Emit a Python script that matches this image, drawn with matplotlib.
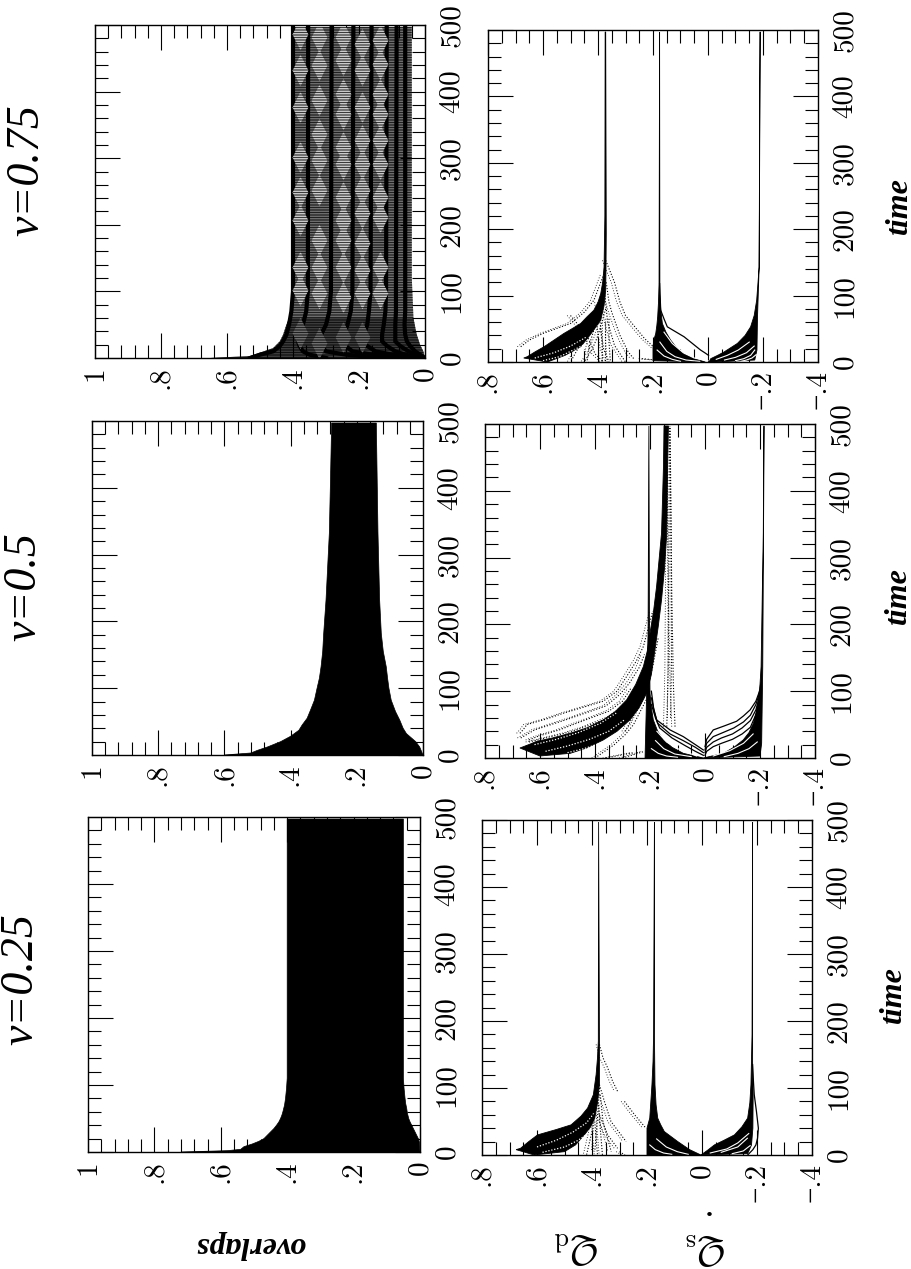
import numpy as np
import matplotlib
matplotlib.use('Agg')
import matplotlib.pyplot as plt

W, H = 912, 1269
plt.rcParams['font.family'] = ['cmr10', 'Liberation Serif']
plt.rcParams['axes.formatter.use_mathtext'] = True
plt.rcParams['mathtext.fontset'] = 'cm'
plt.rcParams['hatch.linewidth'] = 0.55

overlap_ticks = [1, 0.8, 0.6, 0.4, 0.2, 0]
overlap_labels = ['1', '.8', '.6', '.4', '.2', '0']
q_ticks = [0.8, 0.6, 0.4, 0.2, 0, -0.2, -0.4]
q_labels = ['.8', '.6', '.4', '.2', '0', '\u2212.2', '\u2212.4']
time_ticks = [0, 100, 200, 300, 400, 500]
nu_labels = ['0.75', '0.5', '0.25']

# overlaps, nu=0.25: outer edges of the black region
ov25_top_t = [0, 2, 4, 8, 12, 16, 20, 25, 30, 35, 40, 45, 50, 55, 60, 70, 80, 95, 110, 150, 200, 497]
ov25_top = [.72, .58, .54, .53, .505, .485, .47, .46, .45, .44, .432, .425, .42, .416, .413, .408, .405, .402, .40, .40, .40, .40]
ov25_bot_t = [0, 15, 20, 25, 30, 35, 40, 45, 50, 58, 65, 72, 80, 95, 110, 497]
ov25_bot = [0, .002, .005, .01, .015, .02, .025, .03, .034, .038, .04, .043, .045, .048, .05, .05]

# overlaps, nu=0.5
ov50_top_t = [0, 3, 7, 12, 20, 28, 37, 45, 55, 67, 82, 100, 115, 132, 155, 182, 232, 282, 332, 400, 497]
ov50_top = [.6, .52, .50, .47, .43, .40, .375, .365, .35, .34, .328, .32, .313, .308, .303, .30, .293, .288, .283, .28, .276]
ov50_bot_t = [0, 12, 20, 26, 32, 40, 52, 65, 82, 100, 115, 132, 155, 182, 232, 332, 497]
ov50_bot = [0, .01, .022, .036, .05, .06, .07, .083, .096, .103, .107, .111, .12, .126, .131, .136, .141]

# overlaps, nu=0.75
ov75_top_t = [0, 3, 8, 15, 25, 35, 50, 60, 70, 85, 110, 497]
ov75_top = [.65, .53, .50, .46, .44, .43, .42, .412, .405, .402, .40, .40]
ov75_bot_t = [0, 10, 20, 35, 60, 120, 497]
ov75_bot = [0, .005, .015, .025, .035, .04, .04]
dark_top_t = [0, 3, 8, 15, 25, 35, 50, 60]
dark_top = [.65, .53, .50, .46, .44, .43, .42, .412]
dark_bot_t = [0, 10, 20, 40, 60]
dark_bot = [0, .005, .015, .028, .035]
band_t = [0, 5, 10, 18, 25, 35, 50, 70, 100, 497]
bands = [
    [.30, .35, .37, .38, .385, .38, .37, .36, .355, .354],
    [.12, .24, .30, .315, .32, .315, .30, .29, .285, .283],
    [.06, .16, .22, .24, .25, .245, .235, .225, .22, .217],
    [.03, .10, .15, .175, .19, .185, .175, .17, .165, .162],
    [.01, .06, .09, .115, .13, .13, .125, .12, .118, .116],
    [.005, .03, .05, .075, .09, .09, .09, .088, .088, .086],
    [0, .015, .03, .045, .055, .06, .062, .06, .06, .06],
    [.53, .50, .46, .44, .43, .42, .412, .405, .40, .40],
]
light_q = [.378, .32, .25, .19, .135]
light_t = [
    [487, 432, 377, 302, 250, 207, 137, 102, 37],
    [482, 440, 387, 337, 297, 252, 177, 137, 97, 22],
    [482, 447, 397, 367, 317, 292, 242, 207, 177, 137, 92, 32],
    [472, 432, 377, 327, 292, 252, 217, 172, 132, 97, 32],
    [477, 442, 397, 367, 327, 292, 242, 212, 137, 97],
]

# Q panels: each branch is a black bundle (left edge, right edge) in (t, Q)
# nu=0.75
q75_bundles = [
    (([6, 8, 15, 23, 33, 43, 50, 58, 68, 78, 90, 103, 120, 143, 220, 497],
      [.67, .657, .63, .596, .56, .524, .495, .463, .44, .415, .40, .39, .383, .378, .375, .374]),
     ([0, 10, 23, 40, 63, 85, 108, 140, 193, 497], [.584, .52, .463, .43, .39, .378, .372, .371, .37, .372])),
    (([2, 22, 33, 43, 55, 68, 90, 118, 497], [.2, .2, .197, .19, .186, .183, .18, .178, .176]),
     ([0, 5, 12, 22, 33, 45, 58, 80, 103, 497], [.01, .05, .087, .115, .136, .153, .166, .172, .175, .176])),
    (([0, 5, 10, 15, 28, 40, 53, 70, 93, 143, 497],
      [-.004, -.01, -.035, -.058, -.107, -.135, -.155, -.168, -.177, -.186, -.189]),
     ([0, 3, 18, 68, 143, 497], [-.03, -.17, -.178, -.18, -.186, -.19])),
]
q75_solid = [
    ([10, 14, 18, 28, 38, 53, 65, 78, 118], [-.002, .012, .027, .057, .087, .148, .16, .172, .176]),
    ([0, 3, 8, 20, 40], [-.004, -.02, -.06, -.12, -.16]),
]
q75_white = [
    ([2, 6, 14, 28, 45], [.0, .05, .09, .13, .16]),
    ([1, 3, 8, 16, 30], [.03, .08, .12, .15, .175]),
    ([1, 4, 9, 18], [.10, .13, .16, .185]),
    ([3, 7, 14, 24], [-.06, -.10, -.14, -.168]),
    ([2, 5, 10, 18], [-.10, -.13, -.155, -.17]),
    ([1, 3, 6, 11], [-.12, -.14, -.16, -.175]),
    ([4, 10, 18, 30], [-.03, -.07, -.11, -.15]),
]
q75_white_dots = [
    ([2, 8, 16, 28, 40], [.60, .54, .50, .44, .41]),
    ([6, 14, 24, 38], [.63, .56, .50, .44]),
    ([0, 6, 14, 26, 40], [.54, .50, .46, .42, .40]),
]
q75_dots = [
    ([23, 33, 43, 58, 75, 93, 133], [.681, .65, .6, .5, .45, .415, .378]),
    ([153, 120, 90, 70, 50, 35, 20], [.372, .34, .32, .30, .26, .23, .19]),
    ([120, 90, 75, 40, 15, 5], [.37, .36, .35, .32, .29, .27]),
    ([100, 60, 25, 0], [.375, .365, .34, .30]),
    ([90, 50, 20, 0], [.40, .39, .38, .36]),
    ([70, 40, 12, 0], [.50, .44, .41, .38]),
    ([60, 30, 0], [.375, .375, .375]),
    ([50, 25, 0], [.39, .385, .385]),
    ([65, 30, 0], [.36, .36, .355]),
    ([55, 28, 0], [.41, .43, .44]),
    ([80, 40, 20, 0], [.372, .40, .42, .45]),
    ([30, 15, 0], [.46, .48, .50]),
    ([5, 3], [.24, .19]),
]

# nu=0.5
q50_bundles = [
    (([15, 17, 21, 25, 30, 37, 45, 57, 70, 87, 110, 137, 160, 187, 220, 257, 337, 437, 497],
      [.673, .66, .635, .612, .555, .491, .43, .37, .325, .285, .252, .224, .21, .2, .187, .176, .158, .151, .149]),
     ([3, 7, 15, 27, 40, 57, 75, 97, 125, 162, 197, 237, 285, 337, 437, 497],
      [.60, .49, .43, .37, .32, .273, .24, .212, .195, .182, .17, .158, .147, .139, .136, .133])),
    (([0, 100, 187, 497], [.218, .212, .207, .204]),
     ([0, 7, 16, 27, 40, 57, 75, 97, 187, 497], [.006, .079, .12, .151, .172, .188, .195, .2, .202, .204])),
    (([0, 7, 16, 27, 38, 52, 68, 87, 110, 137, 337, 497],
      [.006, -.067, -.105, -.139, -.16, -.176, -.186, -.194, -.2, -.204, -.212, -.214]),
     ([3, 22, 137, 497], [-.2, -.206, -.21, -.215])),
]
q50_solid = [
    ([12, 20, 32, 42, 57, 75, 100], [.006, .035, .079, .127, .176, .187, .195]),
    ([8, 16, 26, 36, 52, 70, 90], [.006, .035, .079, .127, .172, .185, .195]),
    ([4, 10, 18, 30, 45, 60, 80], [.006, .035, .07, .12, .165, .18, .195]),
    ([17, 28, 42, 48, 55, 63, 72, 85, 102], [0, -.006, -.03, -.07, -.115, -.14, -.164, -.185, -.2]),
    ([12, 22, 32, 38, 45, 54, 64, 80, 100], [0, -.006, -.03, -.065, -.105, -.14, -.165, -.185, -.2]),
    ([8, 16, 24, 30, 36, 45, 56, 72, 95], [0, -.006, -.03, -.06, -.10, -.135, -.165, -.185, -.2]),
    ([4, 10, 17, 22, 28, 36, 46, 65, 90], [0, -.006, -.03, -.06, -.10, -.135, -.165, -.185, -.2]),
]
q50_white = [
    ([3, 12, 24, 40], [.03, .09, .14, .175]),
    ([2, 6, 14, 26], [.05, .11, .15, .18]),
    ([1, 3, 7, 14], [.10, .14, .17, .195]),
    ([3, 11, 22, 36], [-.03, -.09, -.14, -.175]),
    ([2, 7, 14, 24], [-.07, -.12, -.16, -.19]),
]
q50_white_dots = [
    ([20, 28, 38, 52, 68], [.62, .54, .46, .38, .32]),
    ([10, 18, 28, 40, 58], [.58, .50, .42, .35, .29]),
    ([8, 14, 22, 32], [.50, .44, .38, .32]),
]
q50_dots = [
    ([37, 43, 50, 58, 67, 85, 100, 122, 145, 167, 220], [.673, .66, .648, .58, .515, .37, .32, .285, .25, .224, .19]),
    ([30, 36, 42, 50, 58, 78, 95, 112, 135, 155], [.67, .645, .62, .56, .50, .36, .31, .275, .24, .22]),
    ([27, 32, 36, 42, 50, 70, 85, 104], [.64, .61, .58, .53, .48, .35, .30, .27]),
    ([24, 30, 38, 46, 62, 78], [.64, .58, .50, .44, .34, .29]),
    ([40, 50, 60, 75, 90, 112, 137, 180], [.29, .277, .265, .245, .225, .205, .19, .17]),
    ([0, 20, 35, 50, 70, 90], [.40, .33, .29, .26, .235, .21]),
    ([47, 110, 250, 420, 497], [.109, .115, .121, .125, .127]),
    ([47, 130, 300, 497], [.139, .134, .131, .13]),
    ([60, 150, 350, 497], [.125, .122, .124, .128]),
    ([0, 10], [.30, .22]),
    ([0, 8], [.36, .26]),
]

# nu=0.25
q25_bundles = [
    (([8, 10, 20, 30, 38, 45, 58, 70, 90, 120, 145, 170, 497],
      [.676, .66, .63, .598, .53, .476, .44, .416, .395, .385, .38, .377, .376]),
     ([0, 5, 15, 30, 42, 55, 78, 105, 170, 497], [.61, .50, .46, .428, .405, .39, .38, .373, .373, .376])),
    (([0, 40, 55, 80, 105, 140, 180, 497], [.2, .2, .19, .186, .182, .178, .176, .173]),
     ([0, 8, 20, 35, 45, 55, 75, 105, 180, 497], [.004, .045, .088, .137, .15, .161, .167, .171, .173, .173])),
    (([0, 7, 15, 22, 30, 42, 55, 78, 105, 180, 497],
      [.004, -.02, -.045, -.08, -.118, -.145, -.166, -.174, -.178, -.182, -.184]),
     ([2, 15, 40, 90, 135, 497], [-.166, -.18, -.185, -.186, -.184, -.184])),
]
q25_solid = [
    ([0, 8, 15, 25, 40, 65, 90, 110, 135], [-.166, -.185, -.196, -.202, -.205, -.198, -.19, -.187, -.184]),
]
q25_white = [
    ([4, 12, 25], [-.07, -.13, -.165]),
    ([2, 6, 14], [-.11, -.15, -.175]),
    ([3, 9, 18, 32], [-.03, -.09, -.13, -.17]),
    ([1, 5, 12, 24], [.05, .09, .13, .165]),
    ([1, 3, 8, 15], [.11, .14, .17, .19]),
]
q25_white_dots = [
    ([12, 22, 34, 48, 64], [.60, .53, .47, .42, .39]),
    ([4, 12, 22, 36], [.58, .50, .45, .40]),
]
q25_dots = [
    ([165, 145, 130, 110, 95], [.373, .36, .343, .325, .307]),
    ([80, 60, 40], [.282, .245, .204]),
    ([105, 80, 50, 20], [.373, .355, .331, .276]),
    ([100, 55, 5], [.373, .38, .39]),
    ([60, 30, 10], [.373, .343, .307]),
    ([90, 50, 5], [.37, .36, .33]),
    ([75, 40, 0], [.375, .37, .362]),
    ([70, 35, 0], [.39, .40, .42]),
    ([50, 25, 0], [.39, .385, .38]),
    ([5, 0], [.30, .28]),
]


def make_axes(left, top, right, bottom):
    return fig.add_axes([left / W, 1 - bottom / H, (right - left) / W, (bottom - top) / H])


def style_axes(ax, xlim, xticks, xlabels, minor_step):
    ax.set_xlim(*xlim)
    ax.set_ylim(0, 500)
    ax.set_xticks(xticks)
    ax.set_xticklabels(xlabels, rotation=90, va='top', ha='center')
    ax.set_xticks(np.arange(xlim[1], xlim[0] + 1e-6, minor_step), minor=True)
    ax.set_yticks(time_ticks)
    ax.set_yticklabels([str(t) for t in time_ticks], rotation=90, va='center', ha='left')
    ax.set_yticks(np.arange(0, 501, 20), minor=True)
    ax.tick_params(which='major', direction='in', length=18, width=0.8, top=True, right=True,
                   left=True, bottom=True, labelleft=False, labelright=True, labelsize=21, pad=10)
    ax.tick_params(axis='x', which='major', pad=6)
    ax.tick_params(which='minor', direction='in', length=9.5, width=0.8, top=True, right=True,
                   left=True, bottom=True)
    for s in ax.spines.values():
        s.set_linewidth(1.0)


def envelope(ax, t1, q1, t2, q2, **kw):
    xs = list(q1) + list(q2)[::-1]
    ys = list(t1) + list(t2)[::-1]
    return ax.fill(xs, ys, **kw)


def draw_q(ax, bundles, solid, white, white_dots, dots):
    for (t1, q1), (t2, q2) in bundles:
        envelope(ax, t1, q1, t2, q2, color='black', lw=0.6)
    for t, q in solid:
        ax.plot(q, t, color='black', lw=0.9)
    for t, q in white:
        ax.plot(q, t, color='white', lw=0.8)
    for t, q in white_dots:
        ax.plot(q, t, color='white', lw=0.9, ls=(0, (1, 1.4)))
    for t, q in dots:
        ax.plot(q, t, color='black', lw=0.8, ls=(0, (1, 1.6)))
    for t, q in dots:
        ax.plot(np.array(q) + 0.012, t, color='black', lw=0.6, ls=(0, (1, 2.2)))


fig = plt.figure(figsize=(W / 100, H / 100), dpi=100)

# positions in pixels of the scan, top row nu=0.75
boxes_left = [(95, 25, 425, 358), (92, 421, 423, 755), (88, 817, 420, 1152)]
boxes_right = [(488, 30, 818, 362), (485, 424, 815, 758), (482, 820, 812, 1155)]

# overlaps panels
ax = make_axes(*boxes_left[0])
style_axes(ax, (1, 0), overlap_ticks, overlap_labels, 0.04)
envelope(ax, ov75_top_t, ov75_top, ov75_bot_t, ov75_bot, color='#8a8a8a', lw=0)
for q in bands:
    ax.plot(q, band_t, color='black', lw=3.0)
verts = [(-0.5, 0), (0, 1), (0.5, 0), (0, -1)]
for q, ts in zip(light_q, light_t):
    ax.scatter([q] * len(ts), ts, marker=verts, s=520, color='white', lw=0, zorder=2)
envelope(ax, ov75_top_t, ov75_top, ov75_bot_t, ov75_bot, facecolor='none', edgecolor='black',
         hatch='-' * 10, lw=0, zorder=3)
envelope(ax, dark_top_t, dark_top, dark_bot_t, dark_bot, color='black', lw=0, alpha=0.45, zorder=3)

ax = make_axes(*boxes_left[1])
style_axes(ax, (1, 0), overlap_ticks, overlap_labels, 0.04)
envelope(ax, ov50_top_t, ov50_top, ov50_bot_t, ov50_bot, color='black', lw=0.5)

ax = make_axes(*boxes_left[2])
style_axes(ax, (1, 0), overlap_ticks, overlap_labels, 0.04)
envelope(ax, ov25_top_t, ov25_top, ov25_bot_t, ov25_bot, color='black', lw=0.5)

# Q panels
q_data = [(q75_bundles, q75_solid, q75_white, q75_white_dots, q75_dots),
          (q50_bundles, q50_solid, q50_white, q50_white_dots, q50_dots),
          (q25_bundles, q25_solid, q25_white, q25_white_dots, q25_dots)]
for box, data in zip(boxes_right, q_data):
    ax = make_axes(*box)
    style_axes(ax, (0.8, -0.4), q_ticks, q_labels, 0.05)
    draw_q(ax, *data)


def page_text(x, y, s, **kw):
    fig.text(x / W, 1 - y / H, s, ha='center', va='center', **kw)


for lab, (x, y) in zip(nu_labels, [(27, 170), (24, 587), (21, 979)]):
    page_text(x, y, '\u03bd=' + lab, rotation=90, fontsize=33, family='Liberation Serif', style='italic')
for x, y in [(900, 207), (899, 597), (894, 996)]:
    page_text(x, y, 'time', rotation=90, fontsize=23, family='Liberation Serif', style='italic', weight='bold')
page_text(250, 1245, 'overlaps', rotation=180, fontsize=23, family='Liberation Serif', style='italic', weight='bold')
page_text(578, 1247, r'$\mathcal{Q}_{\mathrm{d}}$', rotation=180, fontsize=27)
page_text(707, 1248, r'$\mathcal{Q}_{\mathrm{s}}$', rotation=180, fontsize=27)
page_text(709, 1210, '.', fontsize=20, weight='bold', family='Liberation Serif')

fig.savefig('out.png', dpi=100)
